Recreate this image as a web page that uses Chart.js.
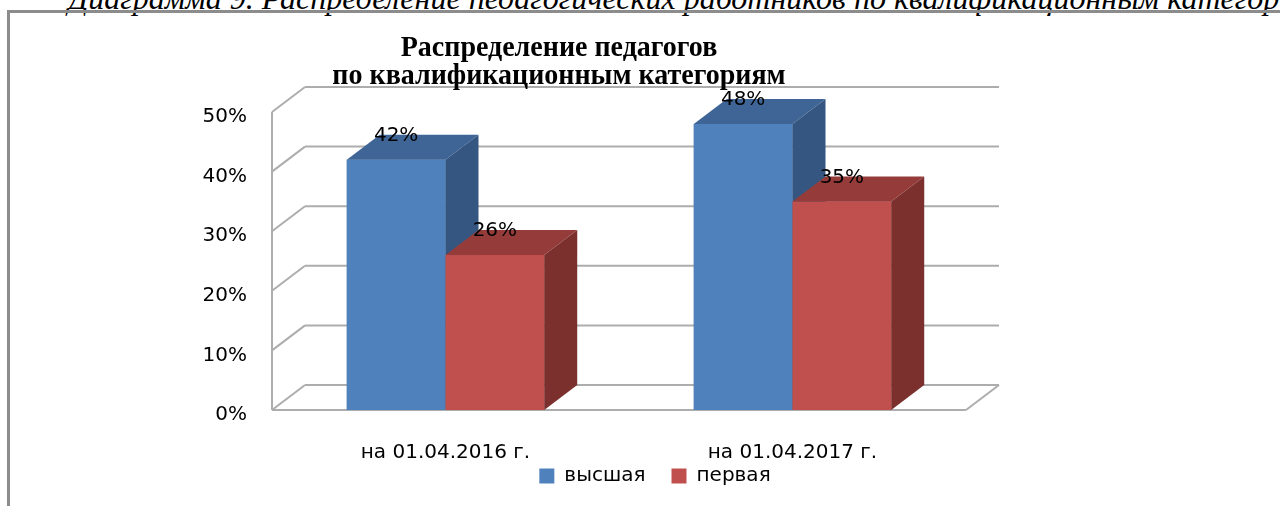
<!DOCTYPE html>
<html lang="ru">
<head>
<meta charset="utf-8">
<title>Распределение педагогов по квалификационным категориям</title>
<script src="https://cdn.jsdelivr.net/npm/chart.js@4/dist/chart.umd.min.js"></script>
<style>
  html, body { margin: 0; padding: 0; background: #fff; }
  body { width: 1280px; height: 506px; position: relative; overflow: hidden; }
  .caption {
    position: absolute; left: 68px; top: -18px; white-space: nowrap;
    font: italic 32px/32px "Liberation Serif", "Times New Roman", serif; color: #000;
  }
  .frame {
    position: absolute; left: 7px; top: 10px; width: 1400px; height: 600px;
    border-left: 3px solid #8c8c8c; border-top: 3px solid #8c8c8c;
  }
  .title {
    position: absolute; left: 259px; top: 32px; width: 600px; text-align: center;
    font: bold 28px/26px "Liberation Serif", "Times New Roman", serif; color: #000;
    transform: scaleY(1.08); transform-origin: 50% 0;
  }
  #wrap { position: absolute; left: 30px; top: 0; width: 1250px; height: 506px; }
</style>
</head>
<body>
<div class="caption">Диаграмма 9. Распределение педагогических работников по квалификационным категориям</div>
<div class="frame"></div>
<div id="wrap"><canvas id="chart" width="1250" height="506"></canvas></div>
<div class="title">Распределение педагогов<br>по квалификационным категориям</div>
<script>
// data
const categories = ['на 01.04.2016 г.', 'на 01.04.2017 г.'];
const seriesNames = ['высшая', 'первая'];
const highest = [0.42, 0.48];
const first = [0.26, 0.35];

// face colours per series: front / top / side
const SHADES = [
  { front: '#4F81BD', top: '#3E6596', side: '#355680' },
  { front: '#C0504D', top: '#953C3A', side: '#7B302E' },
];
const DX = 33, DY = -25;   // depth offset of the 3D box
const GRID = '#adadad';

Chart.defaults.font.family = '"DejaVu Sans", sans-serif';
Chart.defaults.font.size = 20;
Chart.defaults.color = '#000';

function line(ctx, x1, y1, x2, y2) {
  ctx.beginPath(); ctx.moveTo(x1, y1); ctx.lineTo(x2, y2); ctx.stroke();
}
function poly(ctx, pts, fill) {
  ctx.beginPath();
  pts.forEach((p, i) => i ? ctx.lineTo(p[0], p[1]) : ctx.moveTo(p[0], p[1]));
  ctx.closePath(); ctx.fillStyle = fill; ctx.fill();
}

const box3d = {
  id: 'box3d',
  afterLayout(chart) {
    // x axis box is kept short so the legend sits close; let its labels show below it
    const x = chart.scales.x;
    x.bottom = x.top + 60;
  },
  beforeDatasetsDraw(chart) {
    const { ctx, chartArea: a, scales: { y } } = chart;
    ctx.save();
    ctx.strokeStyle = GRID; ctx.lineWidth = 2;
    // side wall diagonals + back wall gridlines
    y.ticks.forEach(t => {
      const py = y.getPixelForValue(t.value);
      line(ctx, a.left, py, a.left + DX, py + DY);
      line(ctx, a.left + DX, py + DY, a.right + DX, py + DY);
    });
    // front vertical axis and floor edges
    line(ctx, a.left, y.getPixelForValue(y.max), a.left, a.bottom);
    line(ctx, a.left, a.bottom, a.right, a.bottom);
    line(ctx, a.right, a.bottom, a.right + DX, a.bottom + DY);
    ctx.restore();
  },
  afterDatasetsDraw(chart) {
    const { ctx } = chart;
    const metas = chart.getSortedVisibleDatasetMetas();
    ctx.save();
    // left to right so the nearer bars cover the side faces
    for (let i = 0; i < categories.length; i++) {
      metas.forEach(m => {
        const { x, y, base, width } = m.data[i].getProps(['x', 'y', 'base', 'width'], true);
        const l = x - width / 2, r = x + width / 2;
        const c = SHADES[m.index];
        ctx.fillStyle = c.front; ctx.fillRect(l, y, width, base - y);
        poly(ctx, [[l, y], [r, y], [r + DX, y + DY], [l + DX, y + DY]], c.top);
        poly(ctx, [[r, y], [r + DX, y + DY], [r + DX, base + DY], [r, base]], c.side);
      });
    }
    // value labels
    ctx.font = '20px "DejaVu Sans", sans-serif';
    ctx.fillStyle = '#000'; ctx.textAlign = 'center'; ctx.textBaseline = 'middle';
    metas.forEach(m => {
      m.data.forEach((bar, i) => {
        const v = chart.data.datasets[m.index].data[i];
        ctx.fillText(Math.round(v * 100) + '%', bar.x, bar.y + DY + 1);
      });
    });
    ctx.restore();
  }
};

new Chart(document.getElementById('chart'), {
  type: 'bar',
  data: {
    labels: categories,
    datasets: [
      { label: seriesNames[0], data: highest, backgroundColor: SHADES[0].front, borderWidth: 0 },
      { label: seriesNames[1], data: first, backgroundColor: SHADES[1].front, borderWidth: 0 },
    ],
  },
  options: {
    responsive: false,
    animation: false,
    devicePixelRatio: 1,
    datasets: { bar: { categoryPercentage: 0.569, barPercentage: 1 } },
    layout: { padding: { top: 112, bottom: 10, left: 0, right: 0 } },
    plugins: {
      legend: {
        position: 'bottom',
        labels: { boxWidth: 15, boxHeight: 15, padding: 26, color: '#000', font: { size: 20 } },
      },
      tooltip: { enabled: false },
    },
    scales: {
      x: {
        grid: { display: false, drawTicks: false },
        border: { display: false },
        ticks: { padding: 31, color: '#000' },
        afterFit: s => { s.height = 30; },
      },
      y: {
        min: 0, max: 0.5,
        grid: { display: false, drawTicks: false },
        border: { display: false },
        ticks: { stepSize: 0.1, padding: 25, labelOffset: 5, color: '#000',
                 callback: v => Math.round(v * 100) + '%' },
        afterFit: s => { s.width = 242; },
      },
      yr: {
        type: 'linear', axis: 'y', position: 'right', display: true,
        grid: { display: false, drawTicks: false },
        border: { display: false },
        ticks: { display: false },
        afterFit: s => { s.width = 314; },
      },
    },
  },
  plugins: [box3d],
});
</script>
</body>
</html>
